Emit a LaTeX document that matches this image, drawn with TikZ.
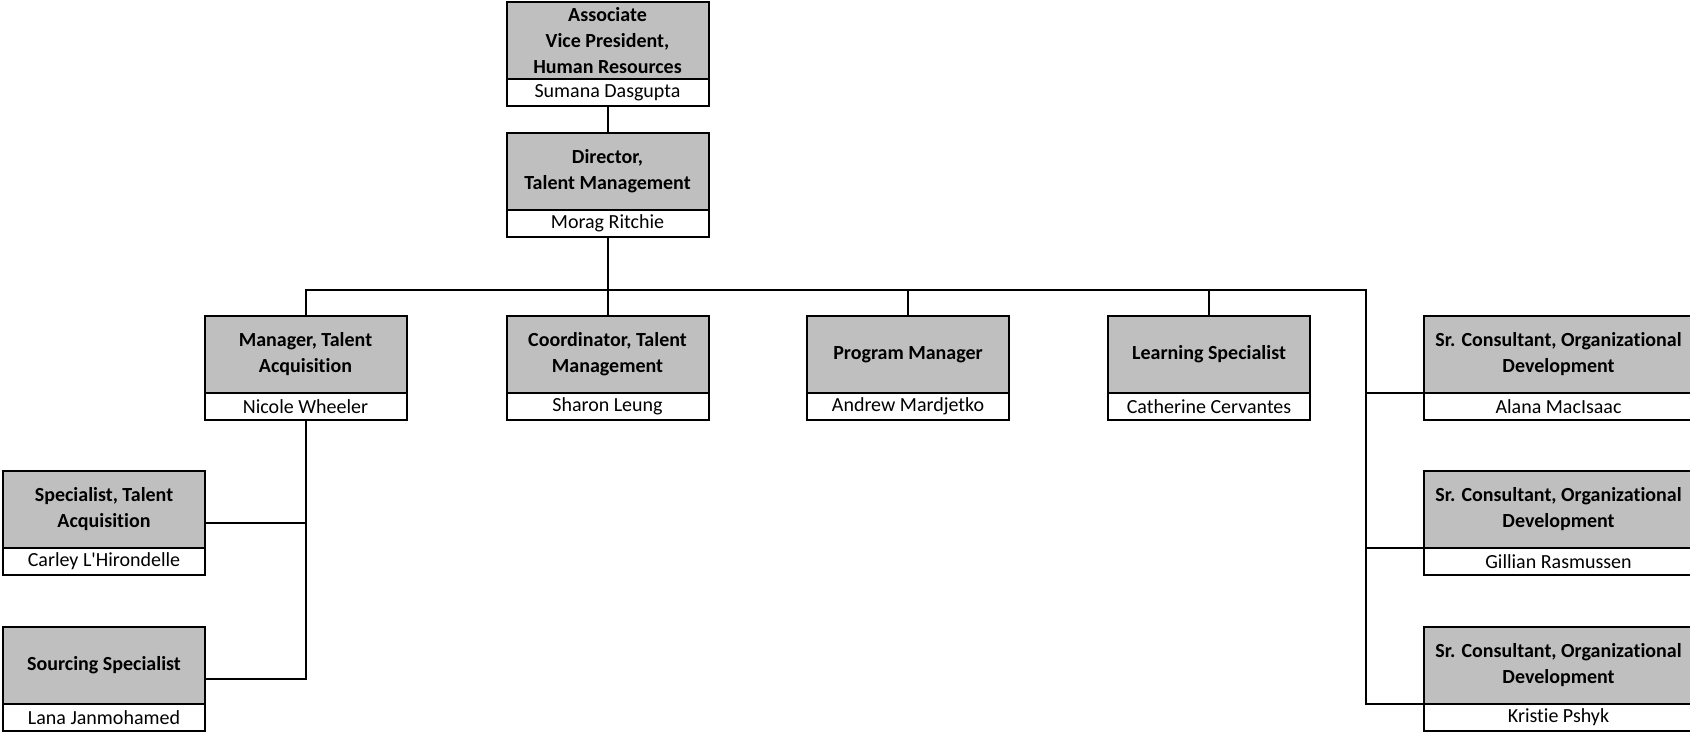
\documentclass[tikz,border=0pt]{standalone}
\usepackage{fontspec}
\setmainfont{Carlito}[Ligatures={CommonOff, TeXOff}]
\usepackage{tikz}
\usetikzlibrary{positioning, calc}
\definecolor{boxgray}{RGB}{191,191,191}

\begin{document}
\begin{tikzpicture}[
  x=0.5pt, y=-0.5pt,
  role/.style={draw, line width=1pt, fill=boxgray, anchor=north, outer sep=0pt,
               minimum width=101pt, minimum height=38.5pt, inner xsep=2pt, inner ysep=0pt,
               align=center, font=\fontsize{10}{13}\selectfont\bfseries},
  widerole/.style={role, minimum width=134.5pt},
  person/.style={draw, line width=1pt, fill=white, outer sep=0pt, minimum width=101pt,
                 minimum height=13.5pt, inner sep=0pt, font=\fontsize{10}{12}\selectfont},
  wideperson/.style={person, minimum width=134.5pt},
  link/.style={line width=1pt},
  node distance=0pt
]
\useasboundingbox (0,0) rectangle (1690,733);
\clip (0,0) rectangle (1690,733);

% Top of the chart
\node[role] (t1) at (607.5,2) {Associate\\Vice President,\\Human Resources};
\node[person, below=of t1] (n1) {Sumana Dasgupta};
\node[role] (t2) at (607.5,133) {Director,\\Talent Management};
\node[person, below=of t2] (n2) {Morag Ritchie};

% Direct reports
\node[role] (t3) at (305.5,316) {Manager, Talent\\Acquisition};
\node[person, below=of t3] (n3) {Nicole Wheeler};
\node[role] (t4) at (607.5,316) {Coordinator, Talent\\Management};
\node[person, below=of t4] (n4) {Sharon Leung};
\node[role] (t5) at (908,316) {Program Manager};
\node[person, below=of t5] (n5) {Andrew Mardjetko};
\node[role] (t6) at (1209,316) {Learning Specialist};
\node[person, below=of t6] (n6) {Catherine Cervantes};

% Right column
\node[widerole] (t7) at (1558.5,316) {Sr. Consultant, Organizational\\Development};
\node[wideperson, below=of t7] (n7) {Alana MacIsaac};
\node[widerole] (t8) at (1558.5,471) {Sr. Consultant, Organizational\\Development};
\node[wideperson, below=of t8] (n8) {Gillian Rasmussen};
\node[widerole] (t9) at (1558.5,627) {Sr. Consultant, Organizational\\Development};
\node[wideperson, below=of t9] (n9) {Kristie Pshyk};

% Talent acquisition team
\node[role] (t10) at (104,471) {Specialist, Talent\\Acquisition};
\node[person, below=of t10] (n10) {Carley L'Hirondelle};
\node[role] (t11) at (104,627) {Sourcing Specialist};
\node[person, below=of t11] (n11) {Lana Janmohamed};

% Connectors
\coordinate (bus) at (1366,290);
\coordinate (j10) at ($(t10.north east)!.5!(n10.south east)$);
\coordinate (j11) at ($(t11.north east)!.5!(n11.south east)$);
\draw[link] (n1.south) -- (t2.north);
\draw[link] (n2.south) -- (t4.north);
\draw[link] (t3.north) |- (bus) |- (t9.south west);
\draw[link] (t5.north) -- (t5.north |- bus);
\draw[link] (t6.north) -- (t6.north |- bus);
\draw[link] (bus |- t7.south west) -- (t7.south west);
\draw[link] (bus |- t8.south west) -- (t8.south west);
\draw[link] (n3.south) |- (j11);
\draw[link] (j10) -- (j10 -| n3.south);
\end{tikzpicture}
\end{document}
